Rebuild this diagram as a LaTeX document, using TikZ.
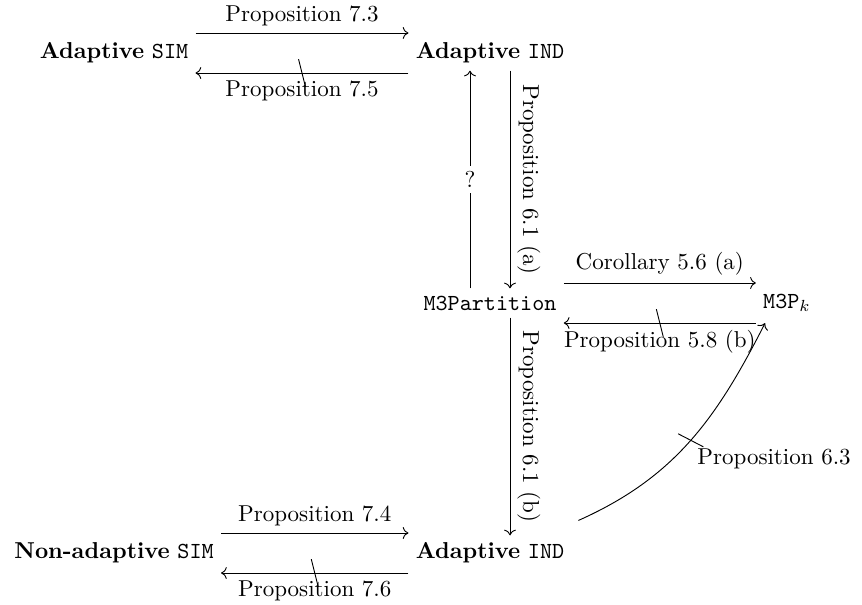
\documentclass[tikz,border=0pt]{standalone}
\usetikzlibrary{arrows.meta,decorations.markings}
\begin{document}
\begin{tikzpicture}[x=0.4348pt,y=-0.4348pt,
  obj/.style={inner sep=3pt},
  arr/.style={draw, line width=0.4pt, -{Computer Modern Rightarrow}},
  lbl/.style={inner sep=3pt},
  qlbl/.style={fill=white, inner sep=2.5pt},
  negslash/.style={postaction={decorate, decoration={markings, mark=at position 0.5 with {\draw[arrows=-, line width=0.4pt] (1.5pt,-6pt) -- (-1.5pt,6pt);}}}}
]
\useasboundingbox (0,0) rectangle (862,604);
% nodes
\node[obj] (asim)  at (114,53)  {\textbf{Adaptive} \texttt{SIM}};
\node[obj] (aind)  at (490,53)  {\textbf{Adaptive} \texttt{IND}};
\node[obj] (m3)    at (490,303) {\texttt{M3Partition}};
\node[obj] (m3pk)  at (787,303) {\texttt{M3P}$_k$};
\node[obj] (naind) at (490,553) {\textbf{Adaptive} \texttt{IND}};
\node[obj] (nsim)  at (114,553) {\textbf{Non-adaptive} \texttt{SIM}};
% top row
\draw[arr] ([yshift=8.7pt]asim.east) -- node[lbl, above] {Proposition 7.3} ([yshift=8.7pt]aind.west);
\draw[arr, negslash] ([yshift=-8.7pt]aind.west) -- node[lbl, below] {Proposition 7.5} ([yshift=-8.7pt]asim.east);
% verticals upper
\draw[arr] ([xshift=-8.7pt]m3.north) -- node[qlbl] {?} ([xshift=-8.7pt]aind.south);
\draw[arr] ([xshift=8.7pt]aind.south) -- node[lbl, rotate=-90, anchor=south] {Proposition 6.1 (a)} ([xshift=8.7pt]m3.north);
% middle row
\draw[arr] ([yshift=8.7pt]m3.east) -- node[lbl, above] {Corollary 5.6 (a)} ([yshift=8.7pt]m3pk.west);
\draw[arr, negslash] ([yshift=-8.7pt]m3pk.west) -- node[lbl, below] {Proposition 5.8 (b)} ([yshift=-8.7pt]m3.east);
% vertical lower
\draw[arr] ([xshift=8.7pt]m3.south) -- node[lbl, rotate=-90, anchor=south] {Proposition 6.1 (b)} ([xshift=8.7pt]naind.north);
% curve
\draw[arr, negslash] ([xshift=3pt,yshift=6.5pt]naind.north east) to[out=24,in=243] node[lbl, below right] {Proposition 6.3} ([xshift=4pt,yshift=-1.7pt]m3pk.south west);
% bottom row
\draw[arr] ([yshift=8.7pt]nsim.east) -- node[lbl, above] {Proposition 7.4} ([yshift=8.7pt]naind.west);
\draw[arr, negslash] ([yshift=-8.7pt]naind.west) -- node[lbl, below] {Proposition 7.6} ([yshift=-8.7pt]nsim.east);
\end{tikzpicture}
\end{document}
